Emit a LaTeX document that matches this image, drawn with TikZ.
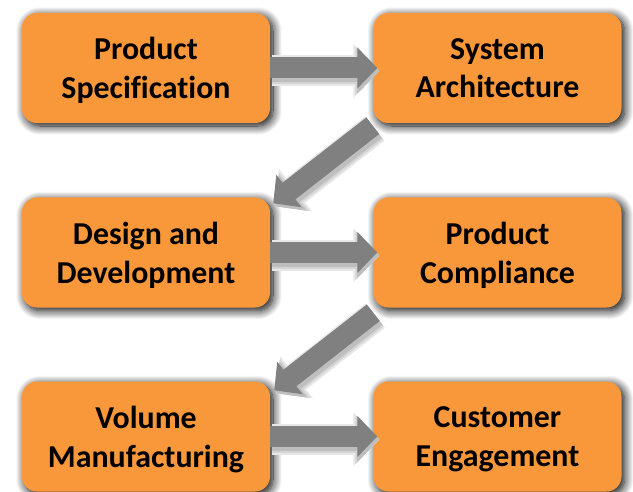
\documentclass[tikz,border=0pt]{standalone}
\usepackage{fontspec}
\setmainfont{Carlito}[Ligatures=NoCommon]
\usetikzlibrary{arrows.meta,shadows.blur,calc}
\definecolor{boxorange}{RGB}{249,152,58}
\definecolor{arrowgray}{RGB}{128,128,128}
\definecolor{shadeA}{RGB}{232,232,232}
\definecolor{shadeB}{RGB}{212,212,212}
\definecolor{shadeC}{RGB}{190,190,190}
\tikzset{
  stage/.style={fill=boxorange, rounded corners=15bp, minimum width=248bp,
    minimum height=110bp, inner sep=0pt, align=center, text=black,
    text depth=0pt,
    font=\fontsize{32}{39}\selectfont\bfseries,
    blur shadow={shadow xshift=3bp, shadow yshift=-3bp, shadow blur radius=9bp,
      shadow opacity=100, shadow blur steps=12}},
  flow/.style={draw=arrowgray, line width=21bp,
    -{Triangle[length=20bp,width=40bp]}},
  shadeone/.style={draw=shadeA, line width=31bp,
    -{Triangle[length=26bp,width=52bp]}, transform canvas={shift={(2bp,-3bp)}}},
  shadetwo/.style={draw=shadeB, line width=27bp,
    -{Triangle[length=24bp,width=48bp]}, transform canvas={shift={(2bp,-3bp)}}},
  shadethree/.style={draw=shadeC, line width=23bp,
    -{Triangle[length=22bp,width=44bp]}, transform canvas={shift={(2bp,-3bp)}}}
}
\begin{document}
\begin{tikzpicture}[x=1bp,y=-1bp]
\useasboundingbox (0,0) rectangle (633,492);
\node[stage] (ps) at (146,68) {Product\\Specification};
\node[stage] (sa) at (497.5,68) {System\\Architecture};
\node[stage] (dd) at (146,252.5) {Design and\\Development};
\node[stage] (pc) at (497.5,252.5) {Product\\Compliance};
\node[stage] (vm) at (146,436.5) {Volume\\Manufacturing};
\node[stage] (ce) at (497.5,436.5) {Customer\\Engagement};
% arrow shadows (soft, three layers)
\foreach \s in {shadeone,shadetwo,shadethree}{
  \draw[\s, shorten >=-4bp] (ps.east) -- (sa.west);
  \draw[\s, shorten >=-4bp] (dd.east) -- (pc.west);
  \draw[\s, shorten >=-4bp] (vm.east) -- (ce.west);
  \draw[\s] ($(sa.south west)+(-0.5,2.5)$) -- ($(dd.north east)+(3,6)$);
  \draw[\s] ($(pc.south west)+(0,5)$) -- ($(vm.north east)+(4,9)$);
}
% arrows
\draw[flow, shorten >=-4bp] (ps.east) -- (sa.west);
\draw[flow, shorten >=-4bp] (dd.east) -- (pc.west);
\draw[flow, shorten >=-4bp] (vm.east) -- (ce.west);
\draw[flow] ($(sa.south west)+(-0.5,2.5)$) -- ($(dd.north east)+(3,6)$);
\draw[flow] ($(pc.south west)+(0,5)$) -- ($(vm.north east)+(4,9)$);
\end{tikzpicture}
\end{document}
